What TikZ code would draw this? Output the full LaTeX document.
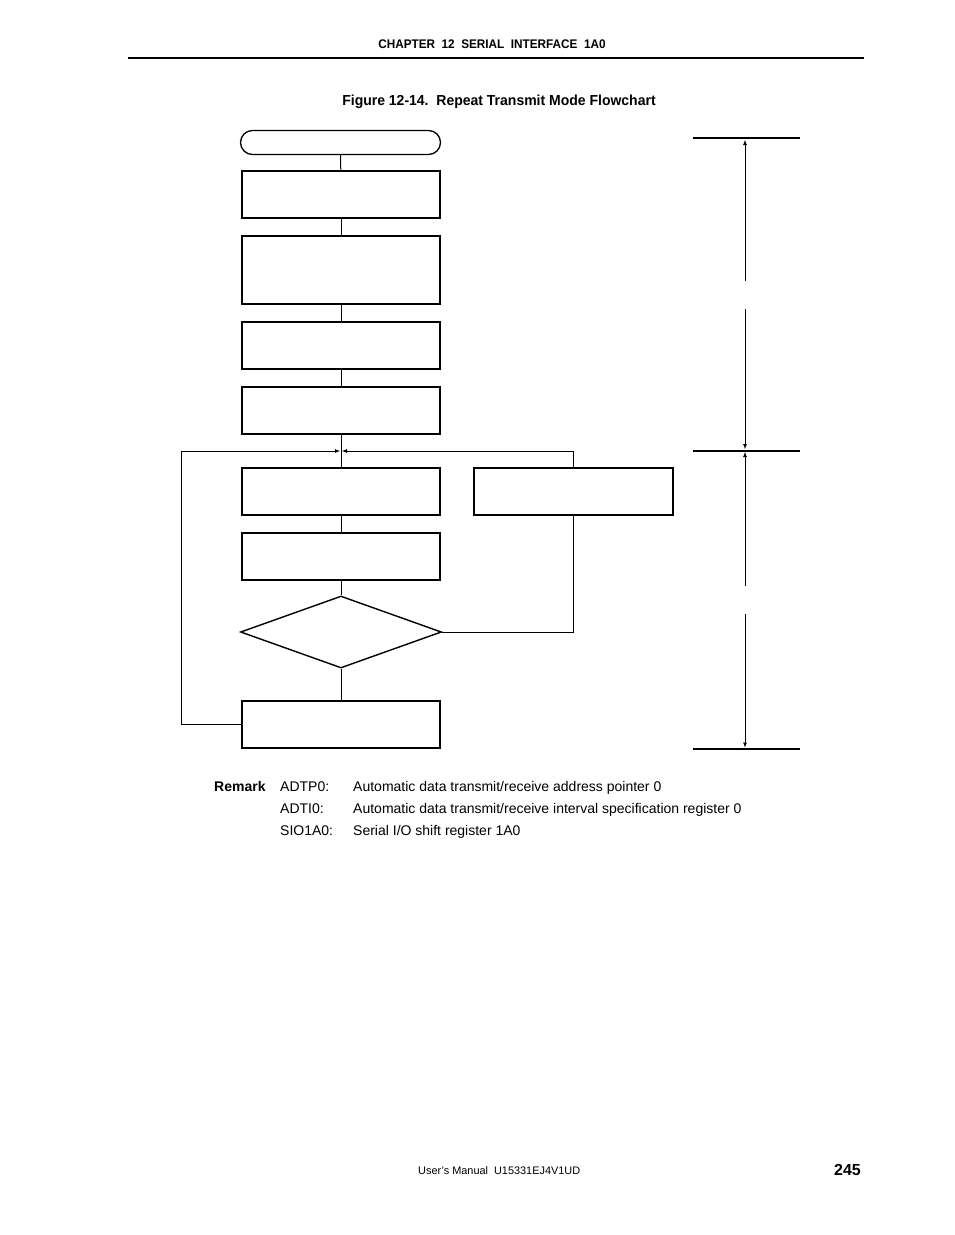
\documentclass[tikz,border=0pt]{standalone}
\usepackage{fontspec}
\setmainfont{Liberation Sans}
\usetikzlibrary{arrows.meta,shapes.geometric}
\begin{document}
\begin{tikzpicture}[x=1pt,y=-1pt,
  box/.style={draw,line width=2pt,minimum width=198pt,minimum height=47pt,inner sep=0pt},
  term/.style={draw,line width=1.3pt,rounded corners=12pt,minimum width=200pt,minimum height=24pt,inner sep=0pt},
  dec/.style={draw,diamond,line width=1.4pt,minimum width=201pt,minimum height=72pt,inner sep=0pt},
  conn/.style={line width=1pt},
  arr/.style={line width=1pt,-{Latex[length=5.5pt,width=4pt]}},
  rule/.style={line width=2pt},
  body/.style={font=\fontsize{14}{16}\selectfont,inner sep=0pt,anchor=base west}]
\useasboundingbox (0,0) rectangle (954,1235);
% header
\node[inner sep=0pt] (hdr) at (492,44) {\scalebox{0.94}[1]{\fontsize{12.5}{14}\selectfont\bfseries CHAPTER\ \ 12\ \ SERIAL\ \ INTERFACE\ \ 1A0}};
\coordinate (hl) at (128,58);
\coordinate (hr) at (864,58);
\draw[rule] (hl) -- (hr);
\node[inner sep=0pt] (title) at (499,102) {\scalebox{0.965}[1]{\fontsize{14.5}{16}\selectfont\bfseries Figure 12-14.\ \ Repeat Transmit Mode Flowchart}};
% flowchart
\node[term] (t) at (340.5,142.5) {};
\node[box] (b1) at (341,194.5) {};
\node[box,minimum height=68pt] (b2) at (341,270) {};
\node[box] (b3) at (341,345.5) {};
\node[box] (b4) at (341,410.5) {};
\node[box] (b5) at (341,491) {};
\node[box,minimum width=199pt] (b6) at (573.5,491) {};
\node[box] (b7) at (341,556) {};
\node[dec] (d) at (341,632) {};
\node[box] (b8) at (341,724.5) {};
\coordinate (j) at (341,451);
\draw[conn] (t) -- (b1);
\draw[conn] (b1) -- (b2);
\draw[conn] (b2) -- (b3);
\draw[conn] (b3) -- (b4);
\draw[conn] (b4) -- (b5);
\draw[conn] (b5) -- (b7);
\draw[conn] (b7) -- (d);
\draw[conn] (d) -- (b8);
\coordinate (jl) at ([xshift=-0.5pt]j);
\coordinate (jr) at ([xshift=0.5pt]j);
\coordinate (lx) at (181,724.5);
\draw[arr] (b8.west) -- (lx) |- (jl);
\draw[arr] (b6.north) |- (jr);
\draw[conn] (d.east) -| (b6.south);
% right-hand bracket
\coordinate (r1l) at (693,138); \coordinate (r1r) at (800,138);
\coordinate (r2l) at (693,450.5); \coordinate (r2r) at (800,450.5);
\coordinate (r3l) at (693,749); \coordinate (r3r) at (800,749);
\draw[rule] (r1l) -- (r1r);
\draw[rule] (r2l) -- (r2r);
\draw[rule] (r3l) -- (r3r);
\coordinate (v1) at (745,281); \coordinate (v1e) at (745,139.5);
\coordinate (v2) at (745,309); \coordinate (v2e) at (745,449.5);
\coordinate (v3) at (745,586); \coordinate (v3e) at (745,451.5);
\coordinate (v4) at (745,614); \coordinate (v4e) at (745,748);
\draw[arr] (v1) -- (v1e);
\draw[arr] (v2) -- (v2e);
\draw[arr] (v3) -- (v3e);
\draw[arr] (v4) -- (v4e);
% remark
\node[body,font=\fontsize{14}{16}\selectfont\bfseries] (rm) at (214,791) {Remark};
\node[body] (k1) at (280,791) {ADTP0:};
\node[body] (v1t) at (353,791) {Automatic data transmit/receive address pointer 0};
\node[body] (k2) at (280,813) {ADTI0:};
\node[body] (v2t) at (353,813) {Automatic data transmit/receive interval specification register 0};
\node[body] (k3) at (280,835) {SIO1A0:};
\node[body] (v3t) at (353,835) {Serial I/O shift register 1A0};
% footer
\node[inner sep=0pt,anchor=base west] (man) at (418,1174) {\fontsize{10.9}{13}\selectfont User's Manual\ \ U15331EJ4V1UD};
\node[inner sep=0pt,anchor=base east] (pg) at (861,1175) {\fontsize{16}{18}\selectfont\bfseries 245};
\end{tikzpicture}
\end{document}
